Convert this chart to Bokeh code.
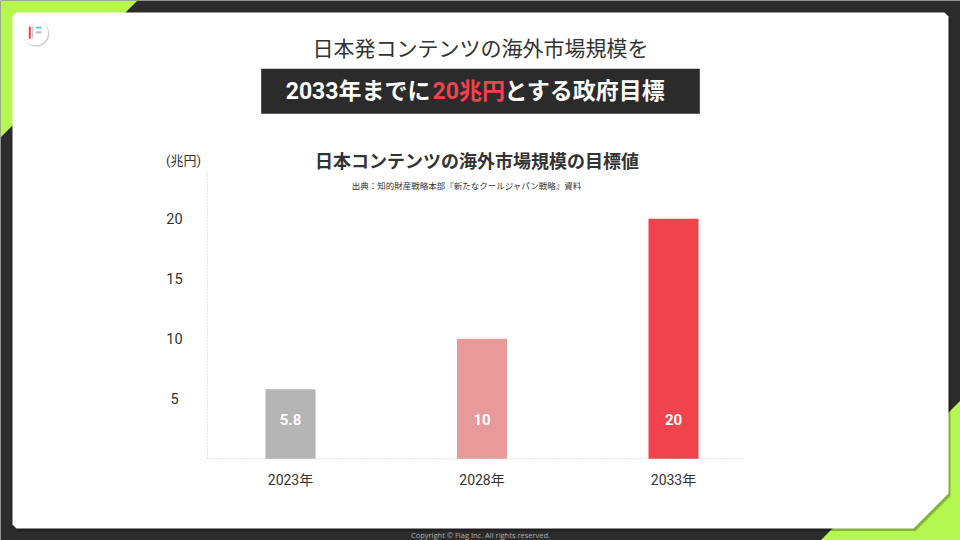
from bokeh.plotting import figure
from bokeh.models import Range1d, ColumnDataSource
from bokeh.core.properties import value
from bokeh.embed import file_html
from bokeh.resources import INLINE

# ---- data ----
categories = ["2023年", "2028年", "2033年"]
years = [2023, 2028, 2033]
values = [5.8, 10, 20]
value_labels = ["5.8", "10", "20"]
bar_colors = ["#b5b5b5", "#e89a9a", "#f0434e"]
y_ticks = [5, 10, 15, 20]
y_tick_labels = ["5", "10", "15", "20"]

title_line1 = "日本発コンテンツの海外市場規模を"
title_line2_parts = ["2033年までに", "20兆円", "とする政府目標"]
chart_title = "日本コンテンツの海外市場規模の目標値"
source_note = "出典：知的財産戦略本部『新たなクールジャパン戦略』資料"
unit_label = "(兆円)"
copyright_text = "Copyright © Flag Inc. All rights reserved."

# ---- layout constants (screen pixels) ----
W, H = 960, 540
DARK = "#2b2b2b"
GREEN = "#b6f651"
TXT = "#333333"
JP = value("'Noto Sans CJK JP'")
NUM = value("Roboto, 'Noto Sans CJK JP'")

# chart mapping: first year -> px 290, last year -> px 673; value 0 -> px 458.3, 12 px per unit
x_first_px, x_last_px = 290.0, 673.0
px_per_year = (x_last_px - x_first_px) / (years[-1] - years[0])
yr_start = years[0] - x_first_px / px_per_year
yr_end = yr_start + W / px_per_year
base_px, px_per_unit = 458.3, 12.0
val_start = (base_px - H) / px_per_unit
val_end = base_px / px_per_unit

p = figure(width=W, height=H, output_backend="svg", toolbar_location=None,
           x_range=Range1d(0, W), y_range=Range1d(H, 0),
           x_axis_type=None, y_axis_type=None,
           min_border=0, min_border_left=0, min_border_right=0,
           min_border_top=0, min_border_bottom=0)
p.grid.visible = False
p.outline_line_color = None
p.background_fill_color = DARK
p.border_fill_color = DARK
p.extra_x_ranges = {"yr": Range1d(yr_start, yr_end)}
p.extra_y_ranges = {"val": Range1d(val_start, val_end)}

# ---- background decoration ----
p.patch([0, 137, 0], [0, 0, 137], color=GREEN, line_width=0)
p.patch([960, 960, 820], [400, 540, 540], color=GREEN, line_width=0)

card_x = [16, 944, 948, 948, 913, 16, 12, 12]
card_y = [12, 12, 16, 493, 528, 528, 524, 16]
p.patch([x + 2 for x in card_x], [y + 2.5 for y in card_y], color="black", alpha=0.28, line_width=0)
p.patch(card_x, card_y, color="white", line_width=0)

# logo
p.circle(x=[36], y=[33.5], radius=12.8, color="black", alpha=0.18, line_width=0)
p.circle(x=[35], y=[32.3], radius=12.5, color="white", line_width=0)
p.quad(left=[28.3], right=[30.3], top=[26], bottom=[38.3], color="#e8434e", line_width=0)
p.quad(left=[31.3], right=[32.7], top=[26], bottom=[38.3], color="#c8c8c8", line_width=0)
p.quad(left=[35.3], right=[41], top=[26.3], bottom=[28], color="#5bc4ec", line_width=0)
p.quad(left=[35.3], right=[41], top=[31], bottom=[32.7], color="#b8b8b8", line_width=0)

# ---- headline ----
p.text(x=[480], y=[46.5], text=[title_line1], text_font=JP, text_font_size="21px",
       text_color=TXT, text_align="center", text_baseline="middle")
p.quad(left=[260.7], right=[699.3], top=[68.3], bottom=[113.3], color=DARK, line_width=0)
p.text(x=[430], y=[91], text=[title_line2_parts[0]], text_font=NUM, text_font_size="23px",
       text_font_style="bold", text_color="white", text_align="right", text_baseline="middle")
p.text(x=[432], y=[91], text=[title_line2_parts[1]], text_font=NUM, text_font_size="23px",
       text_font_style="bold", text_color="#f0434e", text_align="left", text_baseline="middle")
p.text(x=[504], y=[91], text=[title_line2_parts[2]], text_font=NUM, text_font_size="23px",
       text_font_style="bold", text_color="white", text_align="left", text_baseline="middle")

# ---- chart titles ----
p.text(x=[476.5], y=[159], text=[chart_title], text_font=JP, text_font_size="18px",
       text_font_style="bold", text_color=TXT, text_align="center", text_baseline="middle")
p.text(x=[466], y=[184.5], text=[source_note], text_font=JP, text_font_size="8.5px",
       text_color=TXT, text_align="center", text_baseline="middle")
p.text(x=[183], y=[159.5], text=[unit_label], text_font=NUM, text_font_size="13px",
       text_color=TXT, text_align="center", text_baseline="middle")

# ---- axes lines (dotted) ----
p.segment(x0=[207], x1=[207], y0=[172], y1=[458.3], line_color="#c4c4c4",
          line_width=1, line_dash="1 2")
p.segment(x0=[207], x1=[742], y0=[0], y1=[0], y_range_name="val",
          line_color="#c4c4c4", line_width=1, line_dash="1 2")

# ---- bars ----
src = ColumnDataSource(dict(year=years, val=values, lab=value_labels,
                            color=bar_colors, cat=categories))
p.vbar(x="year", top="val", bottom=0, width=50 / px_per_year, source=src,
       x_range_name="yr", y_range_name="val", fill_color="color", line_color=None)

# value labels inside bars
label_level = 3.25
p.text(x="year", y=label_level, text="lab", source=src, x_range_name="yr", y_range_name="val",
       text_font=NUM, text_font_size="15px", text_font_style="bold", text_color="white",
       text_align="center", text_baseline="middle")

# category labels
cat_level = -1.75
p.text(x="year", y=cat_level, text="cat", source=src, x_range_name="yr", y_range_name="val",
       text_font=NUM, text_font_size="14px", text_color=TXT,
       text_align="center", text_baseline="middle")

# y tick labels
tick_src = ColumnDataSource(dict(y=y_ticks, lab=y_tick_labels, x=[174.0] * len(y_ticks)))
p.text(x="x", y="y", text="lab", source=tick_src, y_range_name="val",
       text_font=NUM, text_font_size="14.5px", text_color=TXT,
       text_align="center", text_baseline="middle")

# ---- footer ----
p.text(x=[480], y=[534], text=[copyright_text], text_font=value("'Open Sans'"),
       text_font_size="7.5px", text_color="#b0b0b0", text_align="center", text_baseline="middle")

open("out.html", "w").write(file_html(p, INLINE))
